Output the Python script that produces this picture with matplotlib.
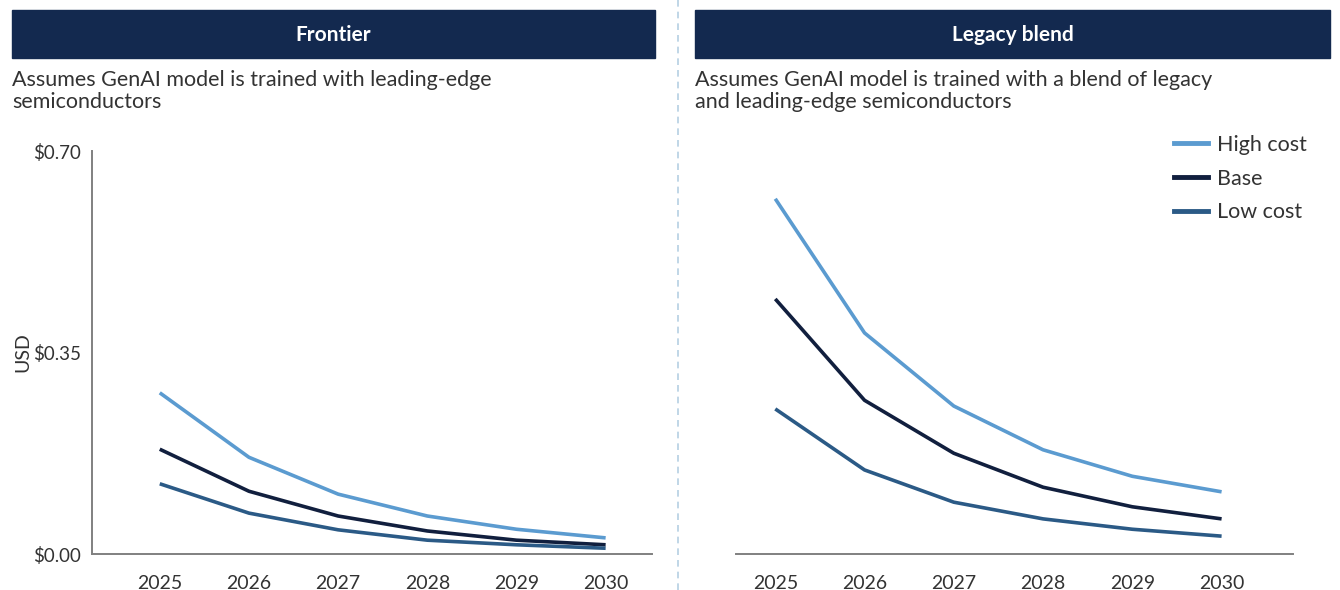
import matplotlib
matplotlib.use("Agg")
import matplotlib.pyplot as plt
from matplotlib.patches import Rectangle
from matplotlib.lines import Line2D

plt.rcParams['font.family'] = ['Lato', 'DejaVu Sans']

years = [2025, 2026, 2027, 2028, 2029, 2030]
series_names = ["High cost", "Base", "Low cost"]

# Frontier panel (USD)
frontier_high = [0.280, 0.168, 0.104, 0.066, 0.043, 0.028]
frontier_base = [0.182, 0.109, 0.066, 0.040, 0.024, 0.016]
frontier_low = [0.122, 0.071, 0.042, 0.024, 0.016, 0.010]

# Legacy blend panel (USD)
legacy_high = [0.617, 0.384, 0.257, 0.181, 0.135, 0.108]
legacy_base = [0.443, 0.267, 0.175, 0.116, 0.082, 0.061]
legacy_low = [0.252, 0.146, 0.090, 0.061, 0.043, 0.031]

yticks = [0.0, 0.35, 0.70]
ytick_labels = ["$0.00", "$0.35", "$0.70"]

titles = ["Frontier", "Legacy blend"]
subtitles = ["Assumes GenAI model is trained with leading-edge\nsemiconductors",
             "Assumes GenAI model is trained with a blend of legacy\nand leading-edge semiconductors"]

colors = ["#5b9bd0", "#111f3e", "#2b5a86"]
navy = "#13294f"
text_col = "#333333"

fig = plt.figure(figsize=(13.4, 5.9), dpi=100)
W, H = 1340, 590

def fx(px):
    return px / W

def fy(py):
    return 1 - py / H

ax1 = fig.add_axes([fx(92), fy(554), fx(652) - fx(92), fy(151) - fy(554)])
ax2 = fig.add_axes([fx(736), fy(554), fx(1293) - fx(736), fy(151) - fy(554)])

data = [[frontier_high, frontier_base, frontier_low],
        [legacy_high, legacy_base, legacy_low]]

for ax, panel in zip([ax1, ax2], data):
    for vals, c, name in zip(panel, colors, series_names):
        ax.plot(years, vals, color=c, lw=2.6, label=name, solid_capstyle='butt')
    ax.set_ylim(0, 0.70)
    for s in ["top", "right"]:
        ax.spines[s].set_visible(False)
    ax.spines["bottom"].set_color("#808080")
    ax.spines["bottom"].set_linewidth(1.4)
    ax.spines["left"].set_color("#808080")
    ax.spines["left"].set_linewidth(1.4)
    ax.set_xticks(years)
    ax.set_xticklabels([str(y) for y in years])
    ax.tick_params(axis='x', length=0, pad=15, labelsize=14, labelcolor=text_col)

ax1.set_xlim(2024.24, 2030.52)
ax2.set_xlim(2024.56, 2030.8)

ax1.set_yticks(yticks)
ax1.set_yticklabels(ytick_labels)
ax1.tick_params(axis='y', length=0, pad=8, labelsize=13.5, labelcolor=text_col)
ax1.set_ylabel("USD", fontsize=14, color=text_col)
ax1.yaxis.set_label_coords(-0.109, 0.5)

ax2.spines["left"].set_visible(False)
ax2.set_yticks([])

ax2.legend(handles=[Line2D([0], [0], color=c, lw=3.5) for c in colors], labels=series_names,
           loc="upper left", bbox_to_anchor=(fx(1174), fy(135)), bbox_transform=fig.transFigure,
           frameon=False, fontsize=15.5, handlelength=1.6, handletextpad=0.4, labelspacing=0.63,
           labelcolor=text_col, borderaxespad=0, borderpad=0)

# header bars
for (x0, x1), title, sub in zip([(12, 655), (695, 1330)], titles, subtitles):
    fig.patches.append(Rectangle((fx(x0), fy(58)), fx(x1) - fx(x0), fy(10) - fy(58),
                                 transform=fig.transFigure, color=navy, zorder=0))
    fig.text((fx(x0) + fx(x1)) / 2, fy(35), title, color="white", fontsize=15,
             fontweight="bold", ha="center", va="center")
    fig.text(fx(x0), fy(70), sub, color=text_col, fontsize=15.5, ha="left", va="top",
             linespacing=1.15)

# dashed divider
fig.add_artist(Line2D([fx(678), fx(678)], [0, 1], transform=fig.transFigure,
                      color="#b5d0e3", lw=1.2, ls=(0, (4, 3))))

fig.savefig("out.png", dpi=100)
